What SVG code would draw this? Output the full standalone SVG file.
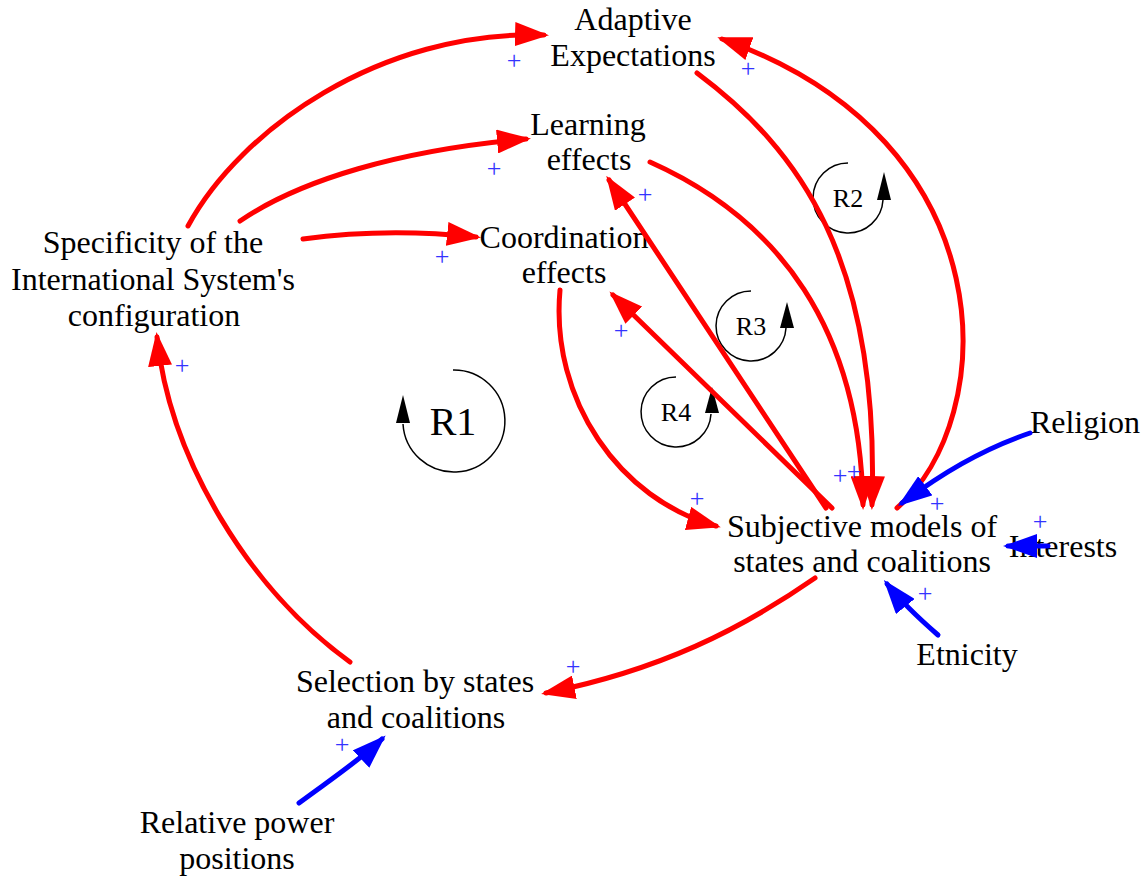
<svg xmlns="http://www.w3.org/2000/svg" width="1144" height="879" viewBox="0 0 1144 879">
<style>
.t{font-family:"Liberation Serif","Times New Roman",serif;font-size:32px;fill:#000;text-anchor:middle}
.p{font-family:"Liberation Serif","Times New Roman",serif;font-size:26px;fill:#3333ff;text-anchor:middle}
.r{fill:none;stroke:#ff0000;stroke-width:5;stroke-linecap:round}
.b{fill:none;stroke:#0000ff;stroke-width:5;stroke-linecap:round}
.loop{fill:none;stroke:#000;stroke-width:1.5}
.la{fill:#000}
.lt{font-family:"Liberation Serif","Times New Roman",serif;fill:#000;text-anchor:middle}
</style>
<defs>
<marker id="ar" markerUnits="userSpaceOnUse" markerWidth="34" markerHeight="24" refX="29" refY="12" orient="auto"><path d="M0,0 L34,12 L0,24 z" fill="#ff0000"/></marker>
<marker id="ab" markerUnits="userSpaceOnUse" markerWidth="34" markerHeight="24" refX="29" refY="12" orient="auto"><path d="M0,0 L34,12 L0,24 z" fill="#0000ff"/></marker>
</defs>
<rect width="1144" height="879" fill="#fff"/>
<g id="nodes">
<g id="adaptive"><text class="t" x="633" y="30">Adaptive</text><text class="t" x="633" y="66">Expectations</text></g>
<g id="learning"><text class="t" x="588" y="135">Learning</text><text class="t" x="589" y="170">effects</text></g>
<g id="coordination"><text class="t" x="564" y="248">Coordination</text><text class="t" x="564" y="283">effects</text></g>
<g id="specificity"><text class="t" x="153" y="253">Specificity of the</text><text class="t" x="153" y="290">International System's</text><text class="t" x="154" y="326">configuration</text></g>
<g id="subjective"><text class="t" x="862" y="537">Subjective models of</text><text class="t" x="862" y="572">states and coalitions</text></g>
<g id="selection"><text class="t" x="415" y="692">Selection by states</text><text class="t" x="416" y="728">and coalitions</text></g>
<g id="relative"><text class="t" x="237" y="833">Relative power</text><text class="t" x="237" y="869">positions</text></g>
<g id="religion"><text class="t" x="1085" y="433">Religion</text></g>
<g id="interests"><text class="t" x="1063" y="557">Interests</text></g>
<g id="etnicity"><text class="t" x="967" y="665">Etnicity</text></g>
</g>
<g id="loops">
<g id="R1"><path class="loop" d="M453,370 A51,51 0 1 1 403,424"/><polygon class="la" points="403,395 396,423 410,423"/><text class="lt" x="453" y="435" font-size="40">R1</text></g>
<g id="R2"><path class="loop" d="M848,163 A35,35 0 1 0 883,200"/><polygon class="la" points="884,172 877,200 891,200"/><text class="lt" x="848" y="207" font-size="26">R2</text></g>
<g id="R3"><path class="loop" d="M751,291 A35,35 0 1 0 786,328"/><polygon class="la" points="787,302 780,328 794,328"/><text class="lt" x="751" y="335" font-size="26">R3</text></g>
<g id="R4"><path class="loop" d="M676,377 A35,35 0 1 0 711,414"/><polygon class="la" points="712,387 705,413 719,413"/><text class="lt" x="676" y="421" font-size="26">R4</text></g>
</g>
<g id="connectors">
<path class="r" marker-end="url(#ar)" d="M188,226 C240,130 380,30 544,35"/>
<path class="r" marker-end="url(#ar)" d="M240,221 C300,180 400,150 526,139"/>
<path class="r" marker-end="url(#ar)" d="M303,239 C360,231 420,231 476,237"/>
<path class="r" marker-end="url(#ar)" d="M350,662 C250,590 170,460 157,337"/>
<path class="r" marker-end="url(#ar)" d="M815,578 C740,630 660,670 546,693"/>
<path class="r" marker-end="url(#ar)" d="M560,290 C550,400 620,500 716,526"/>
<path class="r" marker-end="url(#ar)" d="M832,508 L613,295"/>
<path class="r" marker-end="url(#ar)" d="M826,508 L609,180"/>
<path class="r" marker-end="url(#ar)" d="M650,162 C780,220 860,330 863,505"/>
<path class="r" marker-end="url(#ar)" d="M697,73 C800,150 880,260 872,505"/>
<path class="r" marker-end="url(#ar)" d="M897,508 C1000,420 1010,140 722,39"/>
<path class="b" marker-end="url(#ab)" d="M1030,433 C980,450 940,475 902,503"/>
<path class="b" marker-end="url(#ab)" d="M1048,546 L1008,546"/>
<path class="b" marker-end="url(#ab)" d="M938,635 C915,615 900,600 887,584"/>
<path class="b" marker-end="url(#ab)" d="M299,803 C330,780 360,760 382,739"/>
</g>
<g id="polarities">
<text class="p" x="514" y="69">+</text>
<text class="p" x="748" y="77">+</text>
<text class="p" x="494" y="177">+</text>
<text class="p" x="645" y="203">+</text>
<text class="p" x="442" y="265">+</text>
<text class="p" x="621" y="339">+</text>
<text class="p" x="182" y="374">+</text>
<text class="p" x="697" y="507">+</text>
<text class="p" x="840" y="484">+</text>
<text class="p" x="854" y="480">+</text>
<text class="p" x="937" y="512">+</text>
<text class="p" x="1040" y="530">+</text>
<text class="p" x="925" y="602">+</text>
<text class="p" x="573" y="675">+</text>
<text class="p" x="342" y="753">+</text>
</g>
</svg>
